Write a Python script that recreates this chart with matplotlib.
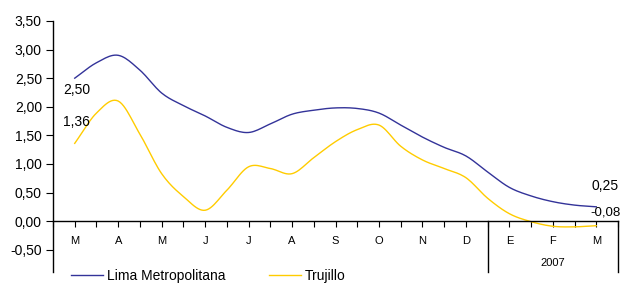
import numpy as np
import matplotlib
matplotlib.use("Agg")
import matplotlib.pyplot as plt
from matplotlib.lines import Line2D

plt.rcParams['font.family'] = ['Liberation Sans', 'DejaVu Sans']

# Half-month positions (month index units), Mar 2006 .. Mar 2007
months = ["M", "A", "M", "J", "J", "A", "S", "O", "N", "D", "E", "F", "M"]
year_label = "2007"
lima = [2.50, 2.77, 2.90, 2.64, 2.24, 2.02, 1.84, 1.64, 1.55, 1.70, 1.87, 1.94, 1.98,
        1.97, 1.89, 1.68, 1.47, 1.29, 1.14, 0.86, 0.59, 0.44, 0.34, 0.28, 0.25]
trujillo = [1.36, 1.89, 2.10, 1.52, 0.83, 0.43, 0.19, 0.54, 0.95, 0.92, 0.83, 1.11, 1.39,
            1.60, 1.68, 1.31, 1.07, 0.92, 0.76, 0.40, 0.13, -0.01, -0.09, -0.10, -0.08]
series_names = ["Lima Metropolitana", "Trujillo"]
colors = ["#333399", "#FFCC00"]
yticks = [-0.5, 0.0, 0.5, 1.0, 1.5, 2.0, 2.5, 3.0, 3.5]


def smooth(x, y, n=12):
    """Catmull-Rom rendering of a smoothed line (like Excel's smoothed line)."""
    x = np.asarray(x, float); y = np.asarray(y, float)
    px = np.concatenate([[2 * x[0] - x[1]], x, [2 * x[-1] - x[-2]]])
    py = np.concatenate([[2 * y[0] - y[1]], y, [2 * y[-1] - y[-2]]])
    xs, ys = [], []
    t = np.linspace(0, 1, n, endpoint=False)
    for i in range(1, len(px) - 2):
        for arr, out in ((px, xs), (py, ys)):
            p0, p1, p2, p3 = arr[i - 1], arr[i], arr[i + 1], arr[i + 2]
            out.extend(0.5 * ((2 * p1) + (-p0 + p2) * t +
                              (2 * p0 - 5 * p1 + 4 * p2 - p3) * t ** 2 +
                              (-p0 + 3 * p1 - 3 * p2 + p3) * t ** 3))
    xs.append(x[-1]); ys.append(y[-1])
    return np.array(xs), np.array(ys)


fig = plt.figure(figsize=(6.21, 2.84), dpi=100)
ax = fig.add_axes([53 / 621, 12 / 284, 565 / 621, 251 / 284])
ax.set_xlim(-0.5, 12.5)
ax.set_ylim(-0.89, 3.5)

x = np.arange(len(lima)) * 0.5
for vals, c, name in zip([lima, trujillo], colors, series_names):
    sx, sy = smooth(x, vals)
    ax.plot(sx, sy, color=c, lw=1.0, label=name)

# data labels at ends
fs = 10
ax.annotate(f"{lima[0]:.2f}".replace('.', ','), (x[0], lima[0]), xytext=(2, -12),
            textcoords='offset pixels', ha='center', va='center', fontsize=fs)
ax.annotate(f"{trujillo[0]:.2f}".replace('.', ','), (x[0], trujillo[0]), xytext=(2, 21),
            textcoords='offset pixels', ha='center', va='center', fontsize=fs)
ax.annotate(f"{lima[-1]:.2f}".replace('.', ','), (x[-1], lima[-1]), xytext=(-5, 21),
            textcoords='offset pixels', ha='left', va='center', fontsize=fs,
            annotation_clip=False)
ax.annotate(f"{trujillo[-1]:.2f}".replace('.', ','), (x[-1], trujillo[-1]), xytext=(-6, 13),
            textcoords='offset pixels', ha='left', va='center', fontsize=9.5,
            annotation_clip=False)

# axes styling
for s in ['top', 'right']:
    ax.spines[s].set_visible(False)
ax.spines['bottom'].set_position(('data', 0))
ax.spines['bottom'].set_linewidth(1.0)
ax.spines['left'].set_linewidth(1.0)

ax.set_yticks(yticks)
ax.set_yticklabels([f"{v:.2f}".replace('.', ',') for v in yticks], fontsize=10)
ax.tick_params(axis='y', direction='out', length=5, width=0.8, pad=3)

ax.set_xticks(np.arange(13))
ax.set_xticklabels(months, fontsize=8)
ax.set_xticks(np.arange(-0.5, 13, 1.0), minor=True)
ax.tick_params(axis='x', which='both', direction='out', length=4, width=0.8, pad=7)

# group separators for 2007
for xv in (9.5, 12.5):
    ax.plot([xv, xv], [0, -0.89], color='black', lw=1.0, clip_on=False)
ax.text(11, -0.74, year_label, ha='center', va='center', fontsize=8)

handles = [Line2D([], [], color=c, lw=1.0) for c in colors]
fig.legend(handles, series_names, loc='center left', bbox_to_anchor=(71 / 621, 8 / 284),
           ncol=2, frameon=False, fontsize=10, handlelength=2.3, handletextpad=0.3,
           columnspacing=3.1, borderpad=0, borderaxespad=0)

fig.savefig("out.png", dpi=100)
